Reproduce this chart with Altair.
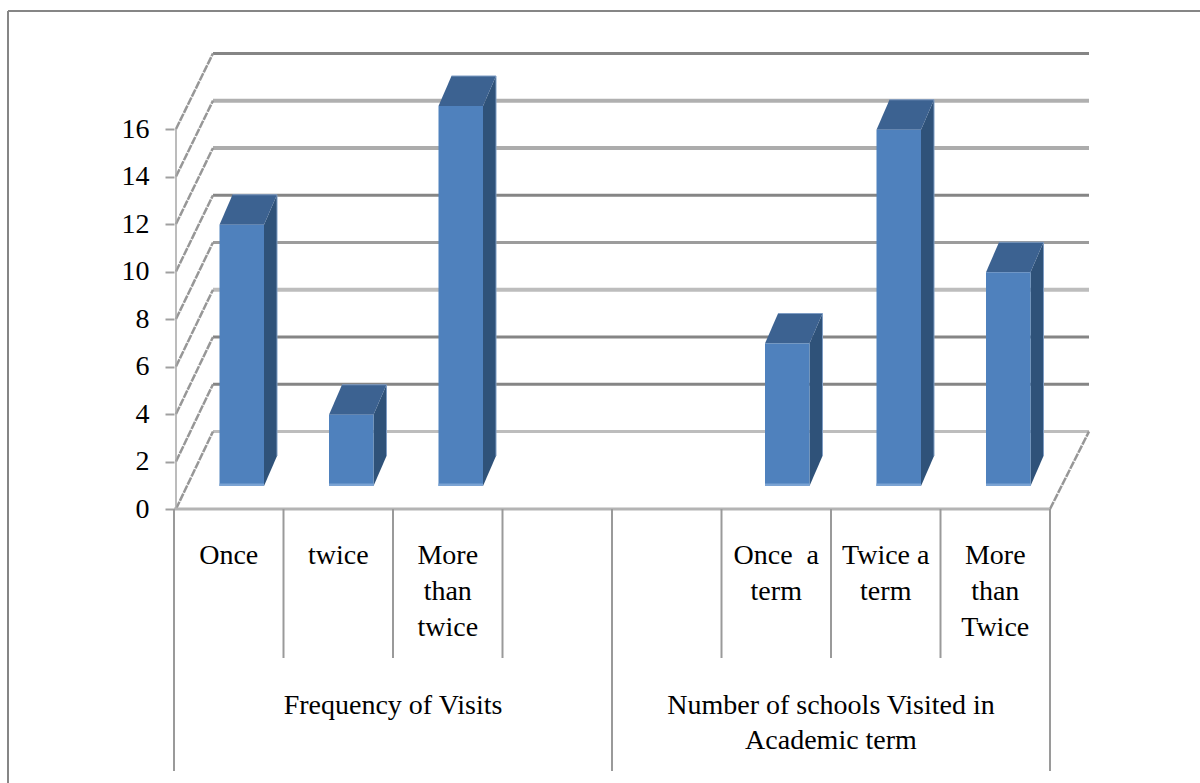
import altair as alt
import pandas as pd

# Chart values
categories = ["Once", "twice", "More\nthan\ntwice", "", "", "Once\u00a0 a\nterm", "Twice a\nterm", "More\nthan\nTwice"]
values = [11, 3, 16, None, None, 6, 15, 9]
groups = ["Frequency of Visits", "Number of schools Visited in\nAcademic term"]
group_spans = [(0, 4), (4, 8)]
y_ticks = [0, 2, 4, 6, 8, 10, 12, 14, 16]
grid_colors = ["#bdbdbd", "#858585", "#858585", "#bdbdbd", "#9c9c9c",
               "#858585", "#acacac", "#b0b0b0", "#858585"]
grid_widths = [3, 3, 3, 4, 3, 3, 4, 4, 3]

# Scale geometry: one category and one value unit in screen pixels
PX_X = 109.5
PX_Y = 23.75
W, H = 876, 380
LEFT, TOP = 174, 129
FONT = "Liberation Serif"
FONT_SIZE = 28


def ux(px):
    return px / PX_X


def uy(px):
    return px / PX_Y


x_scale = alt.Scale(domain=[0, 8], nice=False, zero=False)
y_scale = alt.Scale(domain=[0, 16], nice=False, zero=False)
value_axis = alt.Axis(
    values=y_ticks, title=None, grid=False, domain=False,
    tickColor="#a0a0a0", tickSize=9, tickWidth=2,
    labelFont=FONT, labelFontSize=FONT_SIZE, labelColor="#000000", labelPadding=16,
)
X = alt.X("x:Q", scale=x_scale, axis=None)
X2 = alt.X2("x2:Q")
Y = alt.Y("y:Q", scale=y_scale, axis=value_axis)
Y2 = alt.Y2("y2:Q")

# The box's receding wall and floor; the back wall is very slightly foreshortened
WALL_DX, WALL_DY = ux(39), uy(77.5)
BACK_SCALE = 0.995
# The bars stand part-way back on the floor
BAR_BASE = uy(23)
BAR_LEFT = ux(45.5)
BAR_W = ux(44.5)
BAR_DX, BAR_DY = ux(13), uy(30)
BAR_NUDGE = {5: ux(-2)}

# Outer frame of the chart: top and left edges only
frame_top = alt.Chart(pd.DataFrame([{
    "x": ux(8 - LEFT), "x2": ux(1200 - LEFT), "y": uy(509 - 11),
}])).mark_rule(color="#868686", strokeWidth=2).encode(x=X, x2=X2, y=Y)
frame_left = alt.Chart(pd.DataFrame([{
    "x": ux(8 - LEFT), "y": uy(509 - 11), "y2": uy(509 - 783),
}])).mark_rule(color="#868686", strokeWidth=2).encode(x=X, y=Y, y2=Y2)

# Back-wall gridlines
grid_df = pd.DataFrame({
    "x": [WALL_DX] * len(y_ticks),
    "x2": [8 + WALL_DX] * len(y_ticks),
    "y": [t * BACK_SCALE + WALL_DY for t in y_ticks],
    "color": grid_colors,
    "width": grid_widths,
})
grid = alt.Chart(grid_df).mark_rule().encode(
    x=X, x2=X2, y=Y,
    color=alt.Color("color:N", scale=None),
    strokeWidth=alt.StrokeWidth("width:Q", scale=None),
)

# Diagonals from each front tick back to its gridline, and the floor's right edge
diag_df = pd.DataFrame(
    [{"x": ux(2), "x2": WALL_DX, "y": t, "y2": t * BACK_SCALE + WALL_DY, "k": f"t{t}"} for t in y_ticks]
    + [{"x": 8, "x2": 8 + WALL_DX, "y": 0, "y2": WALL_DY, "k": "edge"}]
)
diagonals = alt.Chart(diag_df).mark_rule(color="#979797", strokeWidth=2.5, strokeDash=[8, 1]).encode(
    x=X, x2=X2, y=Y, y2=Y2, detail="k:N"
)

# Vertical value-axis line
axis_line = alt.Chart(pd.DataFrame([{"x": ux(2), "y": 0, "y2": 16}])).mark_rule(
    color="#a6a6a6", strokeWidth=1.5
).encode(x=X, y=Y, y2=Y2)

# Floor front edge
floor = alt.Chart(pd.DataFrame([{"x": 0, "x2": 8, "y": 0}])).mark_rule(
    color="#b4b4b4", strokeWidth=3
).encode(x=X, x2=X2, y=Y)

# Category separators below the floor
sep_rows = []
for i in range(9):
    bottom = 771 if i in (0, 4, 8) else 658
    sep_rows.append({"x": i, "y": 0, "y2": uy(509 - bottom)})
separators = alt.Chart(pd.DataFrame(sep_rows)).mark_rule(color="#9a9a9a", strokeWidth=2).encode(
    x=X, y=Y, y2=Y2
)

# Bar faces, one parallelogram per side
front_rows, side_rows, top_rows, back_edges, side_edges = [], [], [], [], []
for i, v in enumerate(values):
    if v is None:
        continue
    xl = i + BAR_LEFT + BAR_NUDGE.get(i, 0)
    xr = xl + BAR_W
    lo = BAR_BASE
    hi = BAR_BASE + v
    front_rows.append({"x": xl, "x2": xr, "y": lo, "y2": hi})
    side_rows += [
        {"bar": i, "x": xr, "y": lo, "y2": hi},
        {"bar": i, "x": xr + BAR_DX, "y": lo + BAR_DY, "y2": hi + BAR_DY},
    ]
    top_rows += [
        {"bar": i, "x": xl, "y": hi, "y2": hi},
        {"bar": i, "x": xl + BAR_DX, "y": hi, "y2": hi + BAR_DY},
        {"bar": i, "x": xr, "y": hi, "y2": hi + BAR_DY},
        {"bar": i, "x": xr + BAR_DX, "y": hi + BAR_DY, "y2": hi + BAR_DY},
    ]
    back_edges.append({"x": xl + BAR_DX, "x2": xr + BAR_DX, "y": hi + BAR_DY})
    side_edges.append({"x": xr + BAR_DX, "y": lo + BAR_DY, "y2": hi + BAR_DY})
front_df = pd.DataFrame(front_rows)

sides = alt.Chart(pd.DataFrame(side_rows)).mark_area(color="#2f5279", opacity=1).encode(
    x=X, y=Y, y2=Y2, detail="bar:N"
)
tops = alt.Chart(pd.DataFrame(top_rows)).mark_area(color="#3c6291", opacity=1).encode(
    x=X, y=Y, y2=Y2, detail="bar:N"
)
fronts = alt.Chart(front_df).mark_rect(color="#4f81bd").encode(x=X, x2=X2, y=Y, y2=Y2)
base_strip = alt.Chart(front_df.assign(y2=front_df["y"] + uy(2.5))).mark_rect(color="#7ba3d3").encode(
    x=X, x2=X2, y=Y, y2=Y2
)
# Light highlight along the far edges of each bar
back_rim = alt.Chart(pd.DataFrame(back_edges)).mark_rule(color="#7f9dc4", strokeWidth=1).encode(
    x=X, x2=X2, y=Y
)
side_rim = alt.Chart(pd.DataFrame(side_edges)).mark_rule(color="#7f9dc4", strokeWidth=1).encode(
    x=X, y=Y, y2=Y2
)

# Category and group labels
cat_df = pd.DataFrame({
    "x": [i + 0.5 for i in range(len(categories))],
    "y": [uy(509 - 564)] * len(categories),
    "label": categories,
})
cat_labels = alt.Chart(cat_df[cat_df["label"] != ""]).mark_text(
    font=FONT, fontSize=FONT_SIZE, color="#000000", align="center", baseline="alphabetic",
    lineBreak="\n", lineHeight=36,
).encode(x=X, y=Y, text="label:N")

group_df = pd.DataFrame({
    "x": [(a + b) / 2 for a, b in group_spans],
    "y": [uy(509 - 714)] * len(groups),
    "label": groups,
})
group_labels = alt.Chart(group_df).mark_text(
    font=FONT, fontSize=FONT_SIZE, color="#000000", align="center", baseline="alphabetic",
    lineBreak="\n", lineHeight=35,
).encode(x=X, y=Y, text="label:N")

chart = alt.layer(
    frame_top, frame_left, grid, diagonals, axis_line, floor, separators,
    sides, tops, fronts, base_strip, back_rim, side_rim, cat_labels, group_labels,
).properties(
    width=W,
    height=H,
    background="#ffffff",
    padding={"left": LEFT, "top": TOP, "right": 1200 - LEFT - W, "bottom": 783 - TOP - H},
    autosize=alt.AutoSizeParams(type="none"),
).configure_view(stroke=None)

chart.save("out.html", embed_options={"renderer": "svg", "actions": False})
